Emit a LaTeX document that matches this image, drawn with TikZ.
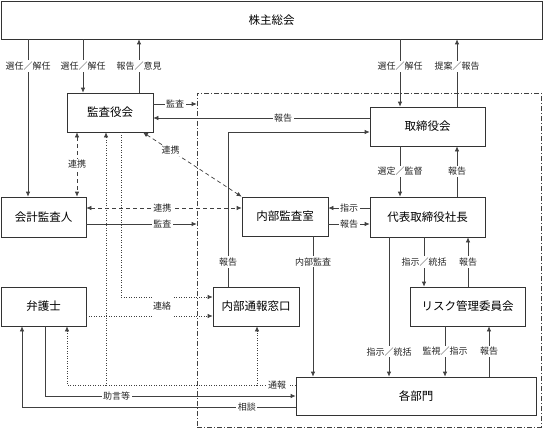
\documentclass[tikz,border=0pt]{standalone}
\usepackage{fontspec}
\setmainfont{Noto Sans CJK JP}
\usetikzlibrary{arrows.meta}

\begin{document}
\begin{tikzpicture}[x=1pt,y=-1pt,>={Latex[length=5pt,width=4.5pt]}]

\tikzstyle{box}=[rectangle,draw=black!80,line width=0.7pt,minimum height=39pt,inner sep=0pt,font=\fontsize{11.5}{13}\selectfont]
\tikzstyle{lbl}=[fill=white,inner sep=1.5pt,text=black!85,font=\fontsize{9}{10}\selectfont]
\tikzstyle{ln}=[draw=black!75,line width=0.7pt]
\tikzstyle{dsh}=[ln,dash pattern=on 4pt off 3pt]
\tikzstyle{dotln}=[ln,dash pattern=on 1pt off 1.5pt]

\useasboundingbox (0,0) rectangle (543,428);

% frame
\node[rectangle,draw=black!75,line width=0.6pt,dash pattern=on 5pt off 2pt on 1pt off 2pt,minimum width=344pt,minimum height=334pt] (fr) at (369,260) {};

\node[box,minimum width=541pt,minimum height=38pt] (smt) at (271.5,20) {株主総会};
\node[box,minimum width=86pt]  (kansa)  at (110,112.5)   {監査役会};
\node[box,minimum width=115pt] (tori)   at (427.5,126.5) {取締役会};
\node[box,minimum width=85pt,minimum height=40pt]  (kaikei) at (43.5,217) {会計監査人};
\node[box,minimum width=86pt]  (naibu)  at (285,216.5)   {内部監査室};
\node[box,minimum width=115pt,minimum height=40pt] (daihyo) at (427.5,217) {代表取締役社長};
\node[box,minimum width=85pt]  (bengo)  at (43.5,306.5)  {弁護士};
\node[box,minimum width=86pt]  (tsuho)  at (256,306.5)   {内部通報窓口};
\node[box,minimum width=115pt] (risk)   at (467.5,306.5) {リスク管理委員会};
\node[box,minimum width=240pt,minimum height=38pt] (kakubu) at (416,396) {各部門};

\coordinate (j1) at (257,385);
\coordinate (j2) at (106,385);

% dotted
\draw[dotln,->] (121,0 |- kansa.south) |- (tsuho.west |- 0,297);
\draw[dotln,->] (bengo.east |- 0,316) -- (tsuho.west |- 0,316);
\draw[dotln,->] (kakubu.west |- 0,385) -| (257,0 |- tsuho.south) node[lbl,pos=.24] (l28) {通報};
\draw[dotln,->] (j1) -| (106,0 |- kansa.south);
\draw[dotln,->] (j2) -| (67,0 |- bengo.south);

% dashed
\draw[dsh,<->] (77,0 |- kansa.south) -- (77,0 |- kaikei.north) node[lbl,pos=.5] (l22) {連携};
\draw[dsh,<->] (143,0 |- kansa.south) -- (naibu.north west) node[lbl,pos=.28] (l23) {連携};
\draw[dsh,<->] (kaikei.east |- 0,208) -- (naibu.west |- 0,208) node[lbl,pos=.49] (l24) {連携};

% solid
\draw[ln,->] (28,0 |- smt.south) -- (28,0 |- kaikei.north) node[lbl,pos=.17] (l1) {選任／解任};
\draw[ln,->] (83,0 |- smt.south) -- (83,0 |- kansa.north) node[lbl,pos=.5] (l2) {選任／解任};
\draw[ln,->] (139,0 |- kansa.north) -- (139,0 |- smt.south) node[lbl,pos=.5] (l3) {報告／意見};
\draw[ln,->] (400,0 |- smt.south) -- (400,0 |- tori.north) node[lbl,pos=.4] (l4) {選任／解任};
\draw[ln,->] (457,0 |- tori.north) -- (457,0 |- smt.south) node[lbl,pos=.6] (l5) {提案／報告};
\draw[ln,->] (kansa.east |- 0,104) -- (fr.west |- 0,104) node[lbl,pos=.5] (l6) {監査};
\draw[ln,->] (tori.west |- 0,118) -- (kansa.east |- 0,118) node[lbl,pos=.4] (l7) {報告};
\draw[ln,->] (228,0 |- tsuho.north) |- (tori.west |- 0,132) node[lbl,pos=.08] (l8) {報告};
\draw[ln,->] (400,0 |- tori.south) -- (400,0 |- daihyo.north) node[lbl,pos=.5] (l9) {選定／監督};
\draw[ln,->] (457,0 |- daihyo.north) -- (457,0 |- tori.south) node[lbl,pos=.5] (l10) {報告};
\draw[ln,->] (daihyo.west |- 0,208) -- (naibu.east |- 0,208) node[lbl,pos=.5] (l11) {指示};
\draw[ln,->] (naibu.east |- 0,224) -- (daihyo.west |- 0,224) node[lbl,pos=.5] (l12) {報告};
\draw[ln,->] (kaikei.east |- 0,224) -- (fr.west |- 0,224) node[lbl,pos=.69] (l13) {監査};
\draw[ln,->] (313,0 |- naibu.south) -- (313,0 |- kakubu.north) node[lbl,pos=.18] (l14) {内部監査};
\draw[ln,->] (389,0 |- daihyo.south) -- (389,0 |- kakubu.north) node[lbl,pos=.82] (l15) {指示／統括};
\draw[ln,->] (424,0 |- daihyo.south) -- (424,0 |- risk.north) node[lbl,pos=.5] (l16) {指示／統括};
\draw[ln,->] (468,0 |- risk.north) -- (468,0 |- daihyo.south) node[lbl,pos=.5] (l17) {報告};
\draw[ln,->] (445,0 |- risk.south) -- (445,0 |- kakubu.north) node[lbl,pos=.5] (l18) {監視／指示};
\draw[ln,->] (489,0 |- kakubu.north) -- (489,0 |- risk.south) node[lbl,pos=.5] (l19) {報告};
\draw[ln,->] (45,0 |- bengo.south) |- (kakubu.west |- 0,396) node[lbl,pos=.643] (l20) {助言等};
\draw[ln,->] (kakubu.west |- 0,407) -| (22,0 |- bengo.south) node[lbl,pos=.089] (l21) {相談};

\node[lbl,minimum height=24pt] (l27) at (162,306.5) {連絡};

\end{tikzpicture}
\end{document}
